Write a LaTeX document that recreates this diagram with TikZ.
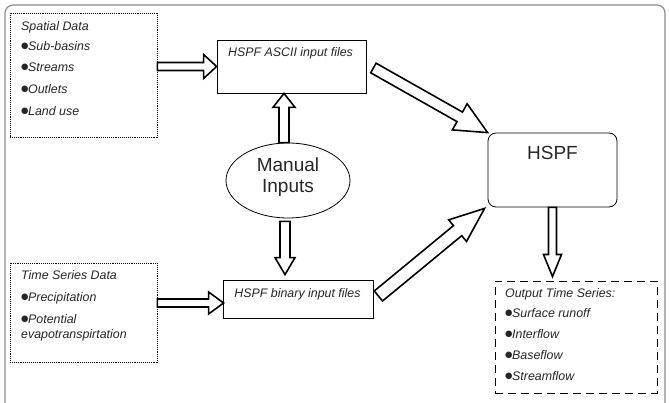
\documentclass[tikz,border=0pt]{standalone}
\usepackage{fontspec}
\setmainfont{Liberation Sans}
\newfontfamily\dvfont{DejaVu Sans}
\usetikzlibrary{calc,shapes.geometric}
\newcommand\bul{\makebox[7pt][l]{\raisebox{2.6pt}{\dvfont\fontsize{8.5}{8.5}\selectfont\upshape ●}}}
\newcommand\fatarrow[5]{%
  \draw[fat] let \p1=#1, \p2=#2,
    \n1={atan2(\y2-\y1,\x2-\x1)},
    \n2={veclen(\x2-\x1,\y2-\y1)-#5pt} in
    ($(\p1)+(\n1+90:#3pt)$) -- ($(\p1)+(\n1:\n2)+(\n1+90:#3pt)$)
    -- ($(\p1)+(\n1:\n2)+(\n1+90:#4pt)$) -- (\p2)
    -- ($(\p1)+(\n1:\n2)+(\n1-90:#4pt)$) -- ($(\p1)+(\n1:\n2)+(\n1-90:#3pt)$)
    -- ($(\p1)+(\n1-90:#3pt)$) -- cycle;}
\tikzset{
  frame/.style={draw=black!45, line width=1.2pt, rounded corners=8pt},
  boxbase/.style={rectangle, inner sep=0pt, line width=0.8pt},
  dotbox/.style={boxbase, draw, dash pattern=on 0.8pt off 1.1pt},
  plainbox/.style={boxbase, draw},
  dashbox/.style={boxbase, draw, line width=0.9pt, dash pattern=on 8pt off 5pt},
  roundbox/.style={boxbase, draw, rounded corners=8pt},
  ovalbox/.style={ellipse, draw, line width=0.8pt, inner sep=0pt},
  fat/.style={draw, fill=white, line width=1.6pt, line join=miter, miter limit=10},
  itx/.style={font=\fontsize{12.4}{14.4}\selectfont\itshape, inner sep=0pt, text=black!85},
  big/.style={font=\fontsize{19}{21}\selectfont, inner sep=0pt, text=black!85},
}
\begin{document}
\begin{tikzpicture}[x=1pt,y=-1pt]
\useasboundingbox (0,0) rectangle (670,403);
% outer frame
\draw[frame] (5,403) -- (5,5) -- (665,5) -- (665,403);

% boxes
\node[dotbox, minimum width=147pt, minimum height=124pt] (spatial) at (83.5,75) {};
\node[dotbox, minimum width=147pt, minimum height=99pt] (time) at (83.5,312.5) {};
\node[plainbox, minimum width=149pt, minimum height=53pt] (ascii) at (291.5,66.5) {};
\node[plainbox, minimum width=150pt, minimum height=38pt] (bin) at (298,299) {};
\node[ovalbox, minimum width=124pt, minimum height=75pt] (man) at (288,180.5) {};
\node[roundbox, minimum width=129pt, minimum height=74pt] (hspf) at (552.5,170) {};
\node[dashbox, minimum width=162pt, minimum height=112pt] (out) at (576,337) {};

% texts
\node[itx, anchor=base west] (sp0) at (21,30.7) {Spatial Data};
\node[itx, anchor=base west] (sp1) at (21,50.7) {\bul Sub-basins};
\node[itx, anchor=base west] (sp2) at (21,72) {\bul Streams};
\node[itx, anchor=base west] (sp3) at (21,94) {\bul Outlets};
\node[itx, anchor=base west] (sp4) at (21,115.7) {\bul Land use};

\node[itx, anchor=base west] (ts0) at (21,280) {Time Series Data};
\node[itx, anchor=base west] (ts1) at (21,301.7) {\bul Precipitation};
\node[itx, anchor=base west] (ts2) at (21,324) {\bul Potential};
\node[itx, anchor=base west] (ts3) at (21,338.3) {evapotranspirtation};

\node[itx, anchor=base] (asciit) at (290.5,57) {HSPF ASCII input files};
\node[itx, anchor=base] (bint) at (297.5,298) {HSPF binary input files};

\node[big, anchor=base] (man1) at (288,172) {Manual};
\node[big, anchor=base] (man2) at (288,193) {Inputs};
\node[big, anchor=base] (hspft) at (552.5,160) {HSPF};

\node[itx, anchor=base west] (o0) at (505,298) {Output Time Series:};
\node[itx, anchor=base west] (o1) at (505,318) {\bul Surface runoff};
\node[itx, anchor=base west] (o2) at (505,338.7) {\bul Interflow};
\node[itx, anchor=base west] (o3) at (505,360) {\bul Baseflow};
\node[itx, anchor=base west] (o4) at (505,381) {\bul Streamflow};

% fat arrows
\fatarrow{(spatial.east |- ascii.west)}{(ascii.west)}{4}{12}{13}
\fatarrow{($(man.north)+(-4,0)$)}{($(man.north |- ascii.south)+(-4,0)$)}{5}{11}{14}
\fatarrow{($(man.south)+(-3,3)$)}{($(man.south |- bin.north)+(-3,-5)$)}{5}{10}{17}
\fatarrow{($(time.east |- bin.west)+(0,4)$)}{($(bin.west)+(1,4)$)}{4}{11}{15}
\fatarrow{($(ascii.east)+(7,1.5)$)}{(hspf.north west)}{5.5}{15}{32}
\fatarrow{($(bin.east)+(5,-3)$)}{($(hspf.south west)+(-3,1)$)}{6.5}{14}{35}
\fatarrow{(hspf.south)}{($(hspf.south |- out.north)+(0,-4)$)}{4}{9}{22}
\end{tikzpicture}
\end{document}
